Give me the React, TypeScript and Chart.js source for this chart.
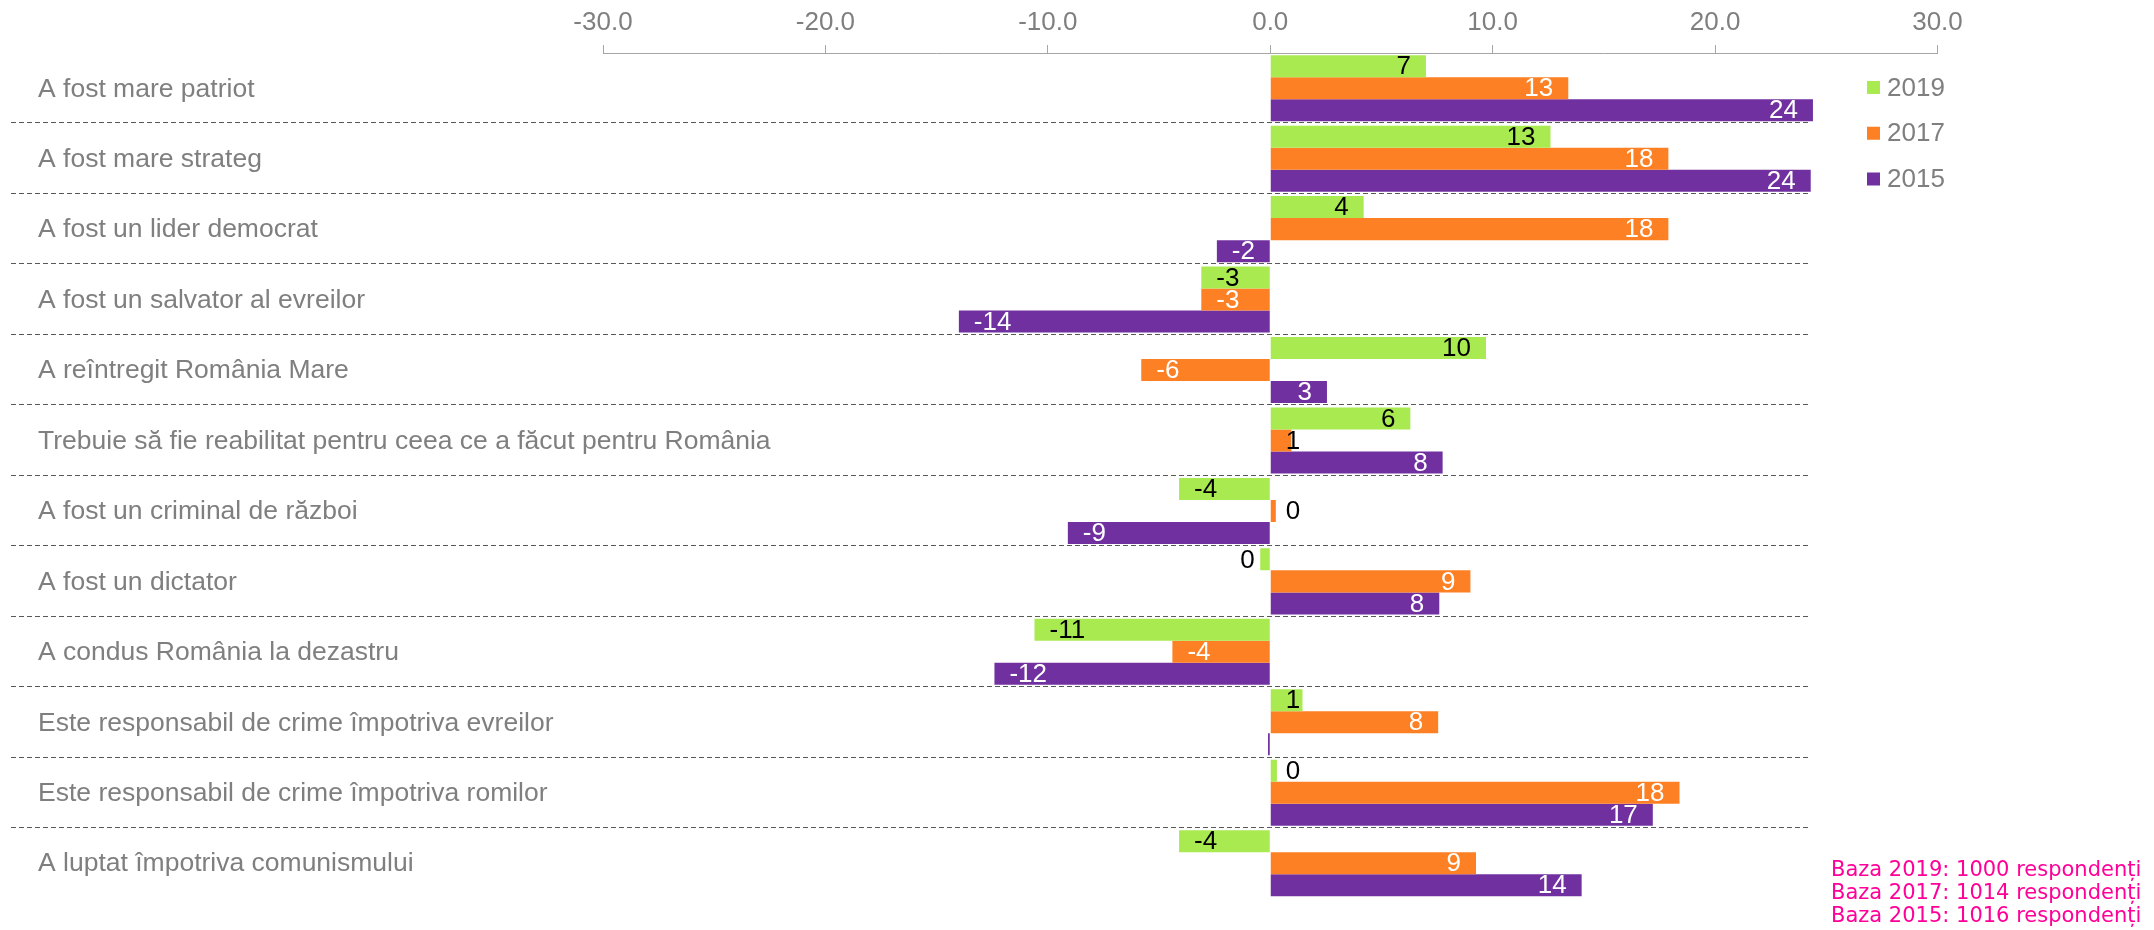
import React, { useEffect, useRef } from "react";
import { Chart, registerables } from "chart.js";

Chart.register(...registerables);

const categories = [
  "A fost mare patriot",
  "A fost mare strateg",
  "A fost un lider democrat",
  "A fost un salvator al evreilor",
  "A reîntregit România Mare",
  "Trebuie să fie reabilitat pentru ceea ce a făcut pentru România",
  "A fost un criminal de război",
  "A fost un dictator",
  "A condus România la dezastru",
  "Este responsabil de crime împotriva evreilor",
  "Este responsabil de crime împotriva romilor",
  "A luptat împotriva comunismului",
];

const values2019 = [7.0, 12.6, 4.2, -3.1, 9.7, 6.3, -4.1, -0.45, -10.6, 1.45, 0.3, -4.1];
const values2017 = [13.4, 17.9, 17.9, -3.1, -5.8, 0.95, 0.25, 9.0, -4.4, 7.55, 18.4, 9.25];
const values2015 = [24.4, 24.3, -2.4, -14.0, 2.55, 7.75, -9.1, 7.6, -12.4, -0.1, 17.2, 14.0];

const seriesNames = ["2019", "2017", "2015"];
const seriesColors = ["#A9EA51", "#FD8124", "#7030A0"];
const insideLabelColors = ["#000000", "#FFFFFF", "#FFFFFF"];

const xTicks = [-30, -20, -10, 0, 10, 20, 30];
const separatorEndValue = 24.3;

const footnotes = [
  "Baza 2019: 1000 respondenți",
  "Baza 2017: 1014 respondenți",
  "Baza 2015: 1016 respondenți",
];

const FONT = "'Liberation Sans', Arial, sans-serif";
const GRAY = "#7f7f7f";
const AXIS = "#a6a6a6";

const separatorPlugin = {
  id: "separators",
  beforeDatasetsDraw(chart: any) {
    const { ctx } = chart;
    const y = chart.scales.y;
    const x = chart.scales.x;
    const right = x.getPixelForValue(separatorEndValue);
    ctx.save();
    ctx.strokeStyle = "#595959";
    ctx.lineWidth = 1;
    ctx.setLineDash([5, 3]);
    for (let i = 1; i < categories.length; i++) {
      const py = Math.round((y.getPixelForValue(i - 1) + y.getPixelForValue(i)) / 2) - 0.5;
      ctx.beginPath();
      ctx.moveTo(11, py);
      ctx.lineTo(right, py);
      ctx.stroke();
    }
    ctx.restore();
  },
};

const categoryLabelPlugin = {
  id: "categoryLabels",
  afterDraw(chart: any) {
    const { ctx } = chart;
    const y = chart.scales.y;
    ctx.save();
    ctx.font = `26.5px ${FONT}`;
    ctx.textBaseline = "middle";
    ctx.textAlign = "left";
    ctx.fillStyle = GRAY;
    categories.forEach((c, i) => {
      ctx.fillText(c, y.left, y.getPixelForValue(i) + 1);
    });
    ctx.restore();
  },
};

const dataLabelPlugin = {
  id: "barLabels",
  afterDatasetsDraw(chart: any) {
    const { ctx } = chart;
    ctx.save();
    ctx.font = `26px ${FONT}`;
    ctx.textBaseline = "middle";
    chart.data.datasets.forEach((ds: any, di: number) => {
      const meta = chart.getDatasetMeta(di);
      meta.data.forEach((el: any, i: number) => {
        const v = ds.data[i] as number;
        if (Math.abs(v) < 0.2) return;
        const text = String(Math.round(v));
        const w = ctx.measureText(text).width;
        const { x, y, base } = el.getProps(["x", "y", "base"], true);
        const len = Math.abs(x - base);
        const pad = 15;
        let tx: number;
        let align: CanvasTextAlign;
        let color: string;
        if (len >= w + pad + 10) {
          if (v > 0) {
            tx = x - pad;
            align = "right";
          } else {
            tx = x + pad;
            align = "left";
          }
          color = insideLabelColors[di];
        } else {
          if (v > 0) {
            tx = base + pad;
            align = "left";
          } else {
            tx = base - pad;
            align = "right";
          }
          color = "#000000";
        }
        ctx.textAlign = align;
        ctx.fillStyle = color;
        ctx.fillText(text, tx, y + 1);
      });
    });
    ctx.restore();
  },
};

const legendPlugin = {
  id: "customLegend",
  afterDraw(chart: any) {
    const { ctx, chartArea } = chart;
    ctx.save();
    ctx.font = `26px ${FONT}`;
    ctx.textBaseline = "middle";
    ctx.textAlign = "left";
    const sx = chartArea.right - 70.5;
    seriesNames.forEach((name, i) => {
      const cy = chartArea.top + 34.5 + i * 45.75;
      ctx.fillStyle = seriesColors[i];
      ctx.fillRect(sx, cy - 6.5, 13, 13);
      ctx.fillStyle = GRAY;
      ctx.fillText(name, sx + 20, cy + 1);
    });
    ctx.font = "21px 'DejaVu Sans', Verdana, sans-serif";
    ctx.fillStyle = "#FF0099";
    footnotes.forEach((t, i) => {
      ctx.fillText(t, 1831, 871 + i * 23);
    });
    ctx.restore();
  },
};

export default function App() {
  const canvasRef = useRef<HTMLCanvasElement | null>(null);

  useEffect(() => {
    if (!canvasRef.current) return;
    const seriesValues = [values2019, values2017, values2015];
    const chart = new Chart(canvasRef.current, {
      type: "bar",
      data: {
        labels: categories,
        datasets: seriesValues.map((d, i) => ({
          label: seriesNames[i],
          data: d,
          backgroundColor: seriesColors[i],
          borderWidth: 0,
          categoryPercentage: 0.937,
          barPercentage: 1,
        })),
      },
      options: {
        indexAxis: "y",
        responsive: false,
        animation: false,
        layout: { padding: { left: 38, right: 216.5, top: 0, bottom: 31.6 } },
        plugins: {
          legend: { display: false },
          tooltip: { enabled: false },
        },
        scales: {
          x: {
            position: "top",
            min: -30,
            max: 30,
            afterBuildTicks: (s: any) => {
              s.ticks = xTicks.map((v) => ({ value: v }));
            },
            ticks: {
              callback: (v: any) => Number(v).toFixed(1),
              color: GRAY,
              font: { size: 26, family: FONT },
              padding: 7,
              maxRotation: 0,
              autoSkip: false,
            },
            grid: { drawOnChartArea: false, drawTicks: true, tickLength: 8, color: AXIS },
            border: { display: true, color: AXIS },
            afterFit: (s: any) => {
              s.height = 53;
            },
          },
          y: {
            ticks: { display: false },
            grid: { display: false },
            border: { display: false },
            afterFit: (s: any) => {
              s.width = 565;
            },
          },
        },
      } as any,
      plugins: [separatorPlugin, dataLabelPlugin, categoryLabelPlugin, legendPlugin],
    });
    return () => chart.destroy();
  }, []);

  return (
    <div style={{ position: "fixed", left: 0, top: 0, width: 2154, height: 930, background: "#fff" }}>
      <canvas ref={canvasRef} width={2154} height={930} style={{ width: 2154, height: 930, display: "block" }} />
    </div>
  );
}
